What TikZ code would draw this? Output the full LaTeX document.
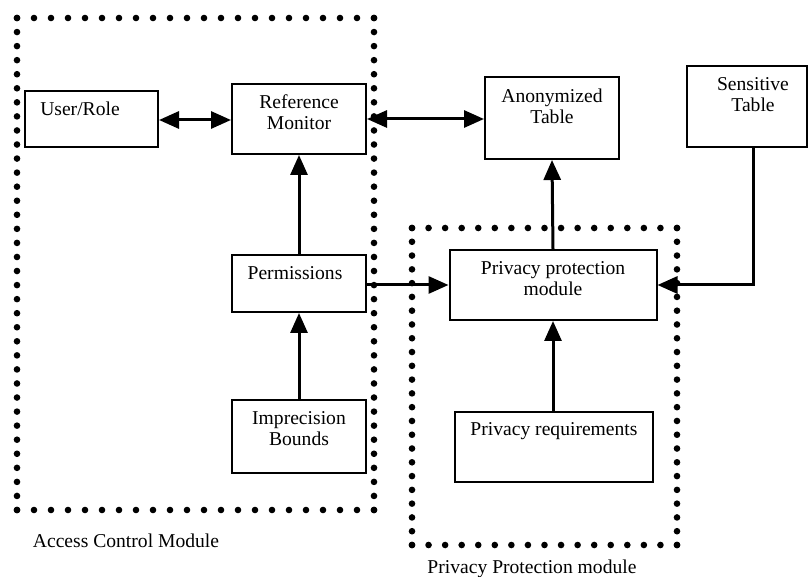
\documentclass[tikz,border=0pt]{standalone}
\usepackage{fontspec}
\setmainfont{Liberation Serif}
\usetikzlibrary{arrows.meta}
\newcommand{\dotframe}[6]{% x1 y1 x2 y2 nh nv
  \foreach \i in {0,...,#5}{
    \fill ({#1+(#3-#1)/#5*\i},#2) circle (3.3);
    \fill ({#1+(#3-#1)/#5*\i},#4) circle (3.3);}
  \foreach \j in {0,...,#6}{
    \fill (#1,{#2+(#4-#2)/#6*\j}) circle (3.3);
    \fill (#3,{#2+(#4-#2)/#6*\j}) circle (3.3);}}
\begin{document}
\begin{tikzpicture}[x=1pt,y=-1pt,
  box/.style={draw,line width=2pt,inner sep=0pt},
  txt/.style={inner sep=0pt,align=center,font=\fontsize{19.6}{21}\selectfont},
  conn/.style={line width=3pt,-{Triangle[length=20pt,width=17pt]}},
  bconn/.style={line width=3pt,{Triangle[length=20pt,width=17pt]}-{Triangle[length=20pt,width=17pt]}}]
\useasboundingbox (0,0) rectangle (809,577);
% boxes
\node[box,minimum width=133,minimum height=56] (ur) at (91.5,119) {};
\node[box,minimum width=134,minimum height=70] (rm) at (299,119) {};
\node[box,minimum width=134,minimum height=57] (pe) at (299,283.5) {};
\node[box,minimum width=134,minimum height=73] (ib) at (299,436.5) {};
\node[box,minimum width=134,minimum height=82] (at) at (552,118) {};
\node[box,minimum width=120,minimum height=81] (st) at (747,106.5) {};
\node[box,minimum width=207,minimum height=70] (pp) at (553,285) {};
\node[box,minimum width=198,minimum height=70] (pr) at (553.5,447) {};
% texts
\node[txt] (urt) at (80,109) {User/Role};
\node[txt] (rmt) at (299,112) {Reference\\Monitor};
\node[txt] (pet) at (295,273) {Permissions};
\node[txt] (ibt) at (299,429) {Imprecision\\Bounds};
\node[txt] (att) at (552,106) {Anonymized\\Table};
\node[txt] (stt) at (753,95) {Sensitive\\Table};
\node[txt] (ppt) at (553,279) {Privacy protection\\module};
\node[txt] (prt) at (554,431) {Privacy requirements};
\node[txt] (acl) at (126,541) {Access Control Module};
\node[txt] (ppl) at (532,569) {Privacy Protection module};
% dotted module borders
\dotframe{17}{18}{374}{510}{21}{35}
\dotframe{412}{228}{677}{545}{16}{23}
% connectors
\draw[bconn] (ur.east |- 0,120) -- (rm.west |- 0,120);
\draw[bconn] (rm.east |- 0,119) -- (at.west |- 0,119);
\draw[conn] (pe.north) -- (rm.south);
\draw[conn] (ib.north) -- (pe.south);
\draw[conn] (pe.east |- 0,285) -- (pp.west);
\draw[conn] (pp.north) -- (at.south);
\draw[conn] (pr.north -| pp.north) -- (pp.south);
\coordinate (bend) at (753,285);
\draw[conn] (753,0 |- st.south) -- (bend) -- (pp.east);
\end{tikzpicture}
\end{document}
